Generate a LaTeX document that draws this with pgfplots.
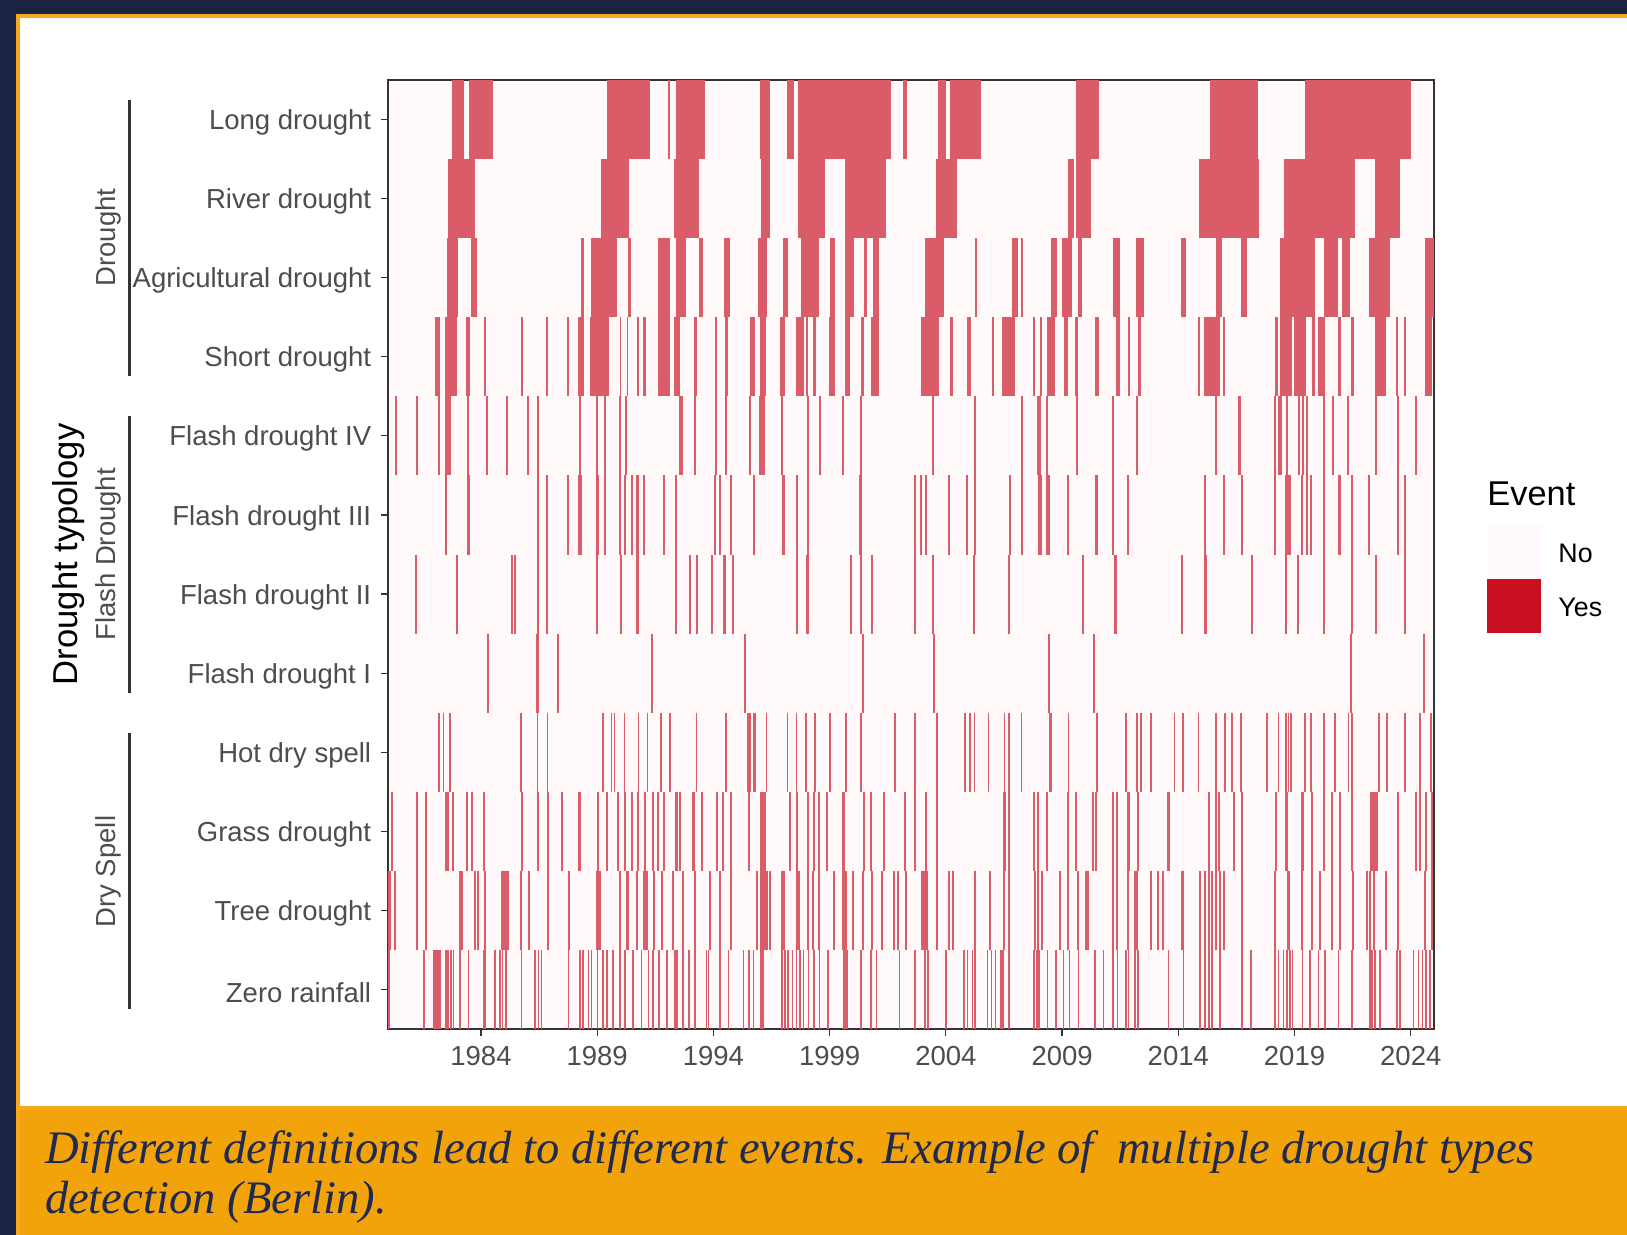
\documentclass[border=0pt]{standalone}
\usepackage{pgfplots}
\pgfplotsset{compat=1.18}
\usepackage{fontspec}
\setmainfont{Liberation Sans}
\newfontfamily\capfont{Liberation Serif}
\definecolor{navy}{RGB}{26,36,66}
\definecolor{frameor}{RGB}{246,170,28}
\definecolor{capor}{RGB}{242,163,10}
\definecolor{captxt}{RGB}{32,42,78}
\definecolor{ev}{RGB}{217,92,104}
\definecolor{nocol}{RGB}{255,250,249}
\definecolor{yescol}{RGB}{200,16,32}
\definecolor{txtgray}{RGB}{77,77,77}
\definecolor{tickgray}{RGB}{51,51,51}

% events with a duration: one horizontal bar per (start, end) pair, one row tall
\pgfplotsset{
  evb/.style={draw=none, mark=none, forget plot,
    error bars/.cd, x dir=both, x explicit, error mark=none,
    error bar style={draw=ev, line width=39.54pt, line cap=butt}},
  thn/.style={only marks, mark=|, mark size=19.77pt, color=ev, line width=1pt, forget plot},
  thl/.style={thn, line width=0.8pt},
}
\newcommand{\evrow}[2]{\addplot[evb] table[row sep=\\, x expr={(\thisrow{s}+\thisrow{e})/2},
  x error expr={(\thisrow{e}-\thisrow{s})/2}, y expr=#1] {#2};}

\begin{document}
\begin{tikzpicture}
% frame and panels
\fill[navy] (0pt,0pt) rectangle (813.5pt,-617.5pt);
\fill[frameor] (8pt,-7pt) rectangle (813.5pt,-617.5pt);
\fill[white] (10pt,-9pt) rectangle (813.5pt,-553pt);
\fill[capor] (10pt,-555pt) rectangle (813.5pt,-617.5pt);

\node[anchor=base west, inner sep=0pt, text=captxt, font=\capfont\itshape\fontsize{23.3}{27}\selectfont]
  at (22.3pt,-581.5pt) {Different definitions lead to different events. Example of\ \ multiple drought types};
\node[anchor=base west, inner sep=0pt, text=captxt, font=\capfont\itshape\fontsize{23.3}{27}\selectfont]
  at (22.3pt,-606.5pt) {detection (Berlin).};

\begin{axis}[
  at={(194pt,-514.5pt)}, anchor=south west,
  scale only axis, width=523pt, height=474.5pt,
  xmin=1980, xmax=2025, ymin=0.5, ymax=12.5, y dir=reverse,
  axis background/.style={fill=nocol},
  axis line style={black!80, line width=0.6pt},
  tick align=outside, tick pos=left,
  major tick length=3.4pt,
  tick style={tickgray, line width=0.6pt},
  xtick={1984,1989,1994,1999,2004,2009,2014,2019,2024},
  xticklabels={1984,1989,1994,1999,2004,2009,2014,2019,2024},
  ytick={1,...,12},
  yticklabels={Long drought, River drought, Agricultural drought, Short drought,
    Flash drought IV, Flash drought III, Flash drought II, Flash drought I,
    Hot dry spell, Grass drought, Tree drought, Zero rainfall},
  tick label style={font=\fontsize{13.75}{16}\selectfont, text=txtgray},
  xticklabel style={yshift=-1.5pt},
  yticklabel style={xshift=-1.5pt, yshift=-1.5pt},
]
% Long drought
\evrow{1}{s e\\1982.78 1983.28\\1983.46 1984.53\\1989.45 1991.29\\1992.06 1992.13\\1992.39 1993.64\\1996.01 1996.46\\1997.15 1997.48\\1997.65 2001.67\\2002.14 2002.32\\2003.68 2003.99\\2004.18 2005.51\\2009.60 2010.59\\2015.37 2017.45\\2019.46 2024.04\\}
% River drought
\evrow{2}{s e\\1982.59 1983.77\\1989.15 1990.38\\1992.32 1993.39\\1996.05 1996.46\\1997.65 1998.80\\1999.66 2001.43\\2003.61 2004.50\\2009.27 2009.52\\2009.60 2010.25\\2014.87 2017.45\\2018.52 2021.61\\2022.47 2023.54\\}
% Agricultural drought
\evrow{3}{s e\\1982.55 1983.03\\1983.56 1983.86\\1988.30 1988.45\\1988.73 1989.87\\1990.31 1990.48\\1991.63 1992.13\\1992.42 1992.82\\1993.38 1993.57\\1994.47 1994.71\\1995.91 1996.32\\1997.01 1997.22\\1997.76 1998.56\\1999.02 1999.23\\1999.66 2000.05\\2000.48 2000.60\\2000.88 2001.14\\2003.10 2003.92\\2005.26 2005.33\\2006.86 2007.09\\2007.23 2007.31\\2008.53 2008.77\\2009.03 2009.46\\2009.70 2009.85\\2011.18 2011.50\\2012.18 2012.53\\2014.11 2014.34\\2015.61 2015.87\\2016.69 2016.95\\2018.38 2019.86\\2020.29 2020.86\\2021.03 2021.36\\2022.21 2023.11\\2024.62 2025.00\\}
% Short drought
\evrow{4}{s e\\1982.02 1982.24\\1982.45 1982.95\\1983.38 1983.53\\1984.13 1984.20\\1985.71 1985.82\\1986.80 1986.87\\1987.71 1987.79\\1988.19 1988.43\\1988.73 1989.51\\1989.98 1990.05\\1990.27 1990.34\\1990.73 1990.80\\1990.98 1991.13\\1991.63 1992.13\\1992.30 1992.56\\1993.18 1993.28\\1994.07 1994.14\\1994.50 1994.64\\1995.58 1995.79\\1996.01 1996.29\\1996.89 1997.08\\1997.58 1997.90\\1998.01 1998.08\\1998.27 1998.41\\1998.99 1999.23\\1999.66 1999.91\\2000.34 2000.48\\2000.81 2001.14\\2002.92 2003.72\\2004.18 2004.32\\2004.93 2005.07\\2006.02 2006.09\\2006.43 2006.98\\2007.74 2007.84\\2008.05 2008.15\\2008.34 2008.70\\2009.08 2009.23\\2009.56 2009.70\\2010.42 2010.59\\2011.35 2011.50\\2011.83 2011.93\\2012.28 2012.43\\2014.87 2014.94\\2015.11 2015.80\\2015.94 2016.01\\2018.16 2018.28\\2018.38 2018.88\\2018.99 2019.48\\2019.74 2019.88\\2020.03 2020.32\\2020.89 2021.03\\2021.46 2021.58\\2022.47 2022.97\\2023.40 2023.47\\2023.73 2023.80\\2024.62 2024.91\\}
% Flash drought IV
\evrow{5}{s e\\2016.56 2016.71\\2018.31 2018.46\\}
\addplot[thn] coordinates {(1980.34,5)(1981.23,5)(1982.21,5)(1982.49,5)(1982.57,5)(1982.68,5)(1983.46,5)(1984.24,5)(1985.10,5)(1986.04,5)(1986.47,5)(1988.26,5)(1989.01,5)(1989.34,5)(1989.98,5)(1990.22,5)(1992.56,5)(1992.63,5)(1993.21,5)(1994.11,5)(1994.54,5)(1995.58,5)(1996.01,5)(1996.08,5)(1996.18,5)(1996.97,5)(1998.09,5)(1998.59,5)(1999.59,5)(2000.35,5)(2003.46,5)(2005.26,5)(2007.29,5)(2007.95,5)(2008.05,5)(2008.37,5)(2009.66,5)(2011.18,5)(2012.21,5)(2015.63,5)(2018.16,5)(2018.67,5)(2019.20,5)(2019.38,5)(2019.53,5)(2020.27,5)(2020.67,5)(2021.32,5)(2022.51,5)(2023.47,5)(2024.23,5)};
% Flash drought III
\evrow{6}{s e\\1983.39 1983.53\\1988.19 1988.36\\1988.94 1989.08\\1990.69 1990.79\\1992.34 1992.44\\1996.94 1997.08\\2000.28 2000.40\\2006.70 2006.82\\2008.34 2008.49\\2010.43 2010.55\\2018.59 2018.88\\2020.90 2021.02\\}
\addplot[thn] coordinates {(1982.49,6)(1986.44,6)(1986.85,6)(1987.73,6)(1989.34,6)(1989.98,6)(1990.20,6)(1990.51,6)(1991.03,6)(1991.89,6)(1994.07,6)(1994.28,6)(1994.74,6)(1995.76,6)(1997.61,6)(1998.06,6)(2002.67,6)(2002.93,6)(2003.13,6)(2004.15,6)(2004.93,6)(2005.26,6)(2007.26,6)(2008.01,6)(2008.10,6)(2009.27,6)(2011.17,6)(2011.85,6)(2015.15,6)(2015.98,6)(2016.73,6)(2018.16,6)(2019.31,6)(2019.53,6)(2019.70,6)(2020.27,6)(2021.46,6)(2022.22,6)(2023.43,6)(2023.76,6)};
% Flash drought II
\evrow{7}{s e\\1990.66 1990.80\\1994.43 1994.57\\1997.99 1998.13\\2011.25 2011.37\\2015.13 2015.23\\2020.22 2020.32\\}
\addplot[thn] coordinates {(1981.20,7)(1982.98,7)(1985.32,7)(1985.46,7)(1986.44,7)(1986.85,7)(1989.01,7)(1990.02,7)(1992.38,7)(1992.99,7)(1993.31,7)(1993.92,7)(1994.83,7)(1997.61,7)(1999.91,7)(2000.34,7)(2000.81,7)(2002.67,7)(2003.43,7)(2005.23,7)(2006.72,7)(2009.89,7)(2014.15,7)(2017.16,7)(2018.62,7)(2019.17,7)(2021.46,7)(2022.51,7)(2023.76,7)};
% Flash drought I
\evrow{8}{s e\\1986.39 1986.49\\}
\addplot[thn] coordinates {(1984.32,8)(1987.33,8)(1991.34,8)(1995.36,8)(2000.42,8)(2003.49,8)(2008.44,8)(2010.39,8)(2021.42,8)(2024.55,8)};
% Hot dry spell
\addplot[thl] coordinates {(1982.19,9)(1982.38,9)(1982.67,9)(1985.72,9)(1986.44,9)(1986.87,9)(1989.26,9)(1989.62,9)(1989.74,9)(1990.17,9)(1990.77,9)(1991.17,9)(1991.74,9)(1992.13,9)(1993.28,9)(1994.54,9)(1995.50,9)(1995.58,9)(1995.72,9)(1995.79,9)(1996.29,9)(1997.18,9)(1997.58,9)(1997.98,9)(1998.37,9)(1999.02,9)(1999.71,9)(2000.35,9)(2001.81,9)(2002.67,9)(2003.63,9)(2004.83,9)(2005.04,9)(2005.23,9)(2005.83,9)(2006.52,9)(2006.72,9)(2007.26,9)(2008.48,9)(2008.55,9)(2009.27,9)(2010.49,9)(2011.75,9)(2012.21,9)(2012.40,9)(2012.82,9)(2013.83,9)(2014.19,9)(2014.87,9)(2015.61,9)(2016.01,9)(2016.30,9)(2016.69,9)(2017.81,9)(2018.31,9)(2018.64,9)(2018.74,9)(2018.84,9)(2019.46,9)(2019.70,9)(2020.27,9)(2020.75,9)(2021.32,9)(2021.46,9)(2022.64,9)(2022.97,9)(2023.76,9)(2024.40,9)(2024.86,9)};
% Grass drought
\evrow{10}{s e\\1988.19 1988.33\\1993.07 1993.21\\1996.01 1996.29\\1999.54 1999.64\\2006.47 2006.57\\2008.32 2008.42\\2011.79 2011.91\\2013.53 2013.63\\2018.61 2018.73\\2019.28 2019.40\\2020.22 2020.32\\2022.25 2022.58\\}
\addplot[thn] coordinates {(1980.16,10)(1981.23,10)(1981.63,10)(1982.49,10)(1982.59,10)(1982.78,10)(1983.38,10)(1983.60,10)(1984.14,10)(1985.75,10)(1986.44,10)(1986.90,10)(1987.47,10)(1989.05,10)(1989.41,10)(1989.91,10)(1990.20,10)(1990.51,10)(1990.77,10)(1991.06,10)(1991.39,10)(1991.63,10)(1991.89,10)(1992.38,10)(1992.45,10)(1992.56,10)(1993.49,10)(1994.14,10)(1994.43,10)(1994.76,10)(1995.53,10)(1997.30,10)(1997.61,10)(1998.09,10)(1998.33,10)(1998.56,10)(1998.90,10)(2000.49,10)(2000.78,10)(2001.35,10)(2002.24,10)(2002.67,10)(2003.13,10)(2003.61,10)(2006.72,10)(2007.79,10)(2007.98,10)(2009.27,10)(2009.60,10)(2010.31,10)(2010.46,10)(2011.18,10)(2011.38,10)(2012.26,10)(2015.32,10)(2015.61,10)(2015.75,10)(2016.40,10)(2016.73,10)(2018.19,10)(2019.74,10)(2020.63,10)(2020.96,10)(2021.46,10)(2023.47,10)(2024.23,10)(2024.40,10)(2024.65,10)(2024.91,10)};
% Tree drought
\evrow{11}{s e\\1980.00 1980.13\\1988.98 1989.19\\1990.98 1991.17\\1996.01 1996.36\\1996.91 1997.08\\1999.52 1999.73\\2000.38 2000.49\\2002.93 2003.25\\2009.99 2010.17\\2012.11 2012.26\\2014.11 2014.25\\2018.67 2018.81\\2022.40 2022.47\\}
\addplot[thn] coordinates {(1980.30,11)(1981.23,11)(1981.63,11)(1983.10,11)(1983.17,11)(1983.74,11)(1983.86,11)(1984.17,11)(1984.89,11)(1984.99,11)(1985.08,11)(1985.15,11)(1985.72,11)(1986.07,11)(1986.87,11)(1987.80,11)(1989.98,11)(1990.27,11)(1990.34,11)(1990.70,11)(1991.46,11)(1991.80,11)(1992.28,11)(1992.68,11)(1993.21,11)(1993.85,11)(1994.28,11)(1994.74,11)(1995.86,11)(1996.44,11)(1997.58,11)(1997.70,11)(1998.09,11)(1998.30,11)(1998.54,11)(1999.20,11)(2000.02,11)(2000.81,11)(2001.24,11)(2001.78,11)(2001.96,11)(2002.29,11)(2003.61,11)(2004.14,11)(2004.32,11)(2005.26,11)(2005.90,11)(2006.52,11)(2006.72,11)(2007.84,11)(2007.98,11)(2008.12,11)(2008.91,11)(2009.27,11)(2009.70,11)(2011.21,11)(2011.38,11)(2011.83,11)(2012.82,11)(2013.14,11)(2013.36,11)(2014.94,11)(2015.15,11)(2015.32,11)(2015.44,11)(2015.63,11)(2015.80,11)(2015.98,11)(2016.76,11)(2018.16,11)(2019.31,11)(2019.74,11)(2020.10,11)(2020.63,11)(2020.96,11)(2021.51,11)(2022.11,11)(2022.25,11)(2022.94,11)(2023.47,11)(2024.62,11)(2024.91,11)};
% Zero rainfall
\evrow{12}{s e\\1980.00 1980.08\\1996.01 1996.19\\1999.59 1999.78\\}
\addplot[thl] coordinates {(1981.56,12)(1981.99,12)(1982.06,12)(1982.16,12)(1982.24,12)(1982.49,12)(1982.59,12)(1982.71,12)(1982.81,12)(1983.10,12)(1983.46,12)(1984.10,12)(1984.17,12)(1984.60,12)(1984.82,12)(1984.92,12)(1985.08,12)(1985.75,12)(1986.32,12)(1986.47,12)(1986.61,12)(1987.76,12)(1988.26,12)(1988.40,12)(1988.62,12)(1988.76,12)(1989.02,12)(1989.26,12)(1989.41,12)(1989.69,12)(1989.98,12)(1990.20,12)(1990.55,12)(1990.91,12)(1991.20,12)(1991.41,12)(1991.67,12)(1991.99,12)(1992.35,12)(1992.42,12)(1992.68,12)(1992.95,12)(1993.21,12)(1993.71,12)(1993.78,12)(1994.28,12)(1994.64,12)(1995.29,12)(1995.53,12)(1995.72,12)(1996.94,12)(1997.08,12)(1997.20,12)(1997.41,12)(1997.58,12)(1997.73,12)(1997.87,12)(1998.09,12)(1998.33,12)(1998.56,12)(1998.92,12)(2000.35,12)(2000.78,12)(2001.02,12)(2002.00,12)(2002.67,12)(2003.10,12)(2003.22,12)(2004.01,12)(2004.78,12)(2004.93,12)(2005.14,12)(2005.26,12)(2005.79,12)(2005.97,12)(2006.14,12)(2006.36,12)(2006.47,12)(2006.72,12)(2007.79,12)(2007.91,12)(2008.01,12)(2008.37,12)(2008.73,12)(2009.06,12)(2009.31,12)(2009.70,12)(2010.42,12)(2010.78,12)(2011.18,12)(2011.38,12)(2011.75,12)(2011.85,12)(2012.14,12)(2012.26,12)(2013.58,12)(2014.22,12)(2014.94,12)(2015.15,12)(2015.32,12)(2015.44,12)(2015.80,12)(2016.73,12)(2017.12,12)(2018.16,12)(2018.31,12)(2018.52,12)(2018.67,12)(2018.81,12)(2018.91,12)(2019.35,12)(2019.67,12)(2020.03,12)(2020.32,12)(2020.89,12)(2021.46,12)(2022.25,12)(2022.32,12)(2022.47,12)(2022.68,12)(2023.40,12)(2023.54,12)(2024.12,12)(2024.33,12)(2024.50,12)(2024.65,12)(2024.83,12)};
\end{axis}

% group brackets and labels
\draw[tickgray, line width=1.6pt] (64.85pt,-49.8pt) -- (64.85pt,-187.8pt);
\draw[tickgray, line width=1.6pt] (64.85pt,-208pt) -- (64.85pt,-346.5pt);
\draw[tickgray, line width=1.6pt] (64.85pt,-366.25pt) -- (64.85pt,-504.25pt);
\node[rotate=90, text=txtgray, font=\fontsize{13.75}{16}\selectfont] at (54pt,-118.8pt) {Drought};
\node[rotate=90, text=txtgray, font=\fontsize{13.75}{16}\selectfont] at (54pt,-277.2pt) {Flash Drought};
\node[rotate=90, text=txtgray, font=\fontsize{13.75}{16}\selectfont] at (54pt,-435.8pt) {Dry Spell};
\node[rotate=90, font=\fontsize{17.3}{20}\selectfont] at (34.2pt,-277.2pt) {Drought typology};

% legend
\node[anchor=base west, inner sep=0pt, font=\fontsize{17.2}{20}\selectfont] at (743.5pt,-252.5pt) {Event};
\fill[nocol] (743.5pt,-262.5pt) rectangle (770.5pt,-289.5pt);
\fill[yescol] (743.5pt,-289.5pt) rectangle (770.5pt,-316.5pt);
\node[anchor=west, inner sep=0pt, font=\fontsize{13.4}{16}\selectfont] at (779pt,-276.5pt) {No};
\node[anchor=west, inner sep=0pt, font=\fontsize{13.4}{16}\selectfont] at (779pt,-303.5pt) {Yes};
\end{tikzpicture}
\end{document}
